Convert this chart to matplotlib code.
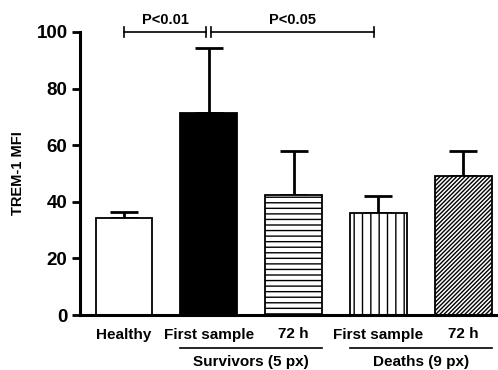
import numpy as np
import matplotlib
matplotlib.use("Agg")
import matplotlib.pyplot as plt

plt.rcParams["font.family"] = ["Liberation Sans", "DejaVu Sans"]
plt.rcParams["font.weight"] = "bold"
plt.rcParams["hatch.linewidth"] = 1.0

# TREM-1 MFI per group (mean, upper SEM)
labels = ["Healthy", "First sample", "72 h", "First sample", "72 h"]
means = [34.3, 71.5, 42.5, 36.0, 49.0]
errors = [2.2, 23.0, 15.5, 6.0, 8.8]
fills = ["white", "black", "white", "white", "white"]
hatches = [None, None, "---", "||", "////////"]
groups = ["Survivors (5 px)", "Deaths (9 px)"]
group_members = [(1, 2), (3, 4)]
yticks = [0, 20, 40, 60, 80, 100]

fig = plt.figure(figsize=(4.98, 3.70), dpi=100)
ax = fig.add_axes([80 / 498, 55 / 370, 418 / 498, 283 / 370])

x = np.arange(len(labels))
width = 0.67
ax.bar(x, means, width=width, color=fills, edgecolor="black",
       linewidth=1.3, hatch=hatches, zorder=2)
ax.errorbar(x, means, yerr=[np.zeros(len(errors)), errors], fmt="none",
            ecolor="black", elinewidth=2, capsize=10, capthick=2, zorder=1)

ax.set_xlim(-0.52, 4.41)
ax.set_ylim(0, 100)
ax.set_yticks(yticks)
ax.set_xticks(x)
ax.set_xticklabels(labels, fontsize=11, fontweight="bold")
ax.tick_params(axis="x", length=0, pad=9)
ax.tick_params(axis="y", length=6, width=2, pad=3, labelsize=13.5)
for t in ax.get_yticklabels():
    t.set_fontweight("bold")
ax.set_ylabel("TREM-1 MFI", fontsize=10.5, fontweight="bold", labelpad=8)

for side in ["top", "right"]:
    ax.spines[side].set_visible(False)
for side in ["left", "bottom"]:
    ax.spines[side].set_linewidth(2.2)

# significance brackets along the top
ytop = 100
tick = 1.8
gap = 0.03
brackets = [(0, 1 - gap, "P<0.01"), (1 + gap, 3 - 0.05, "P<0.05")]
for x0, x1, txt in brackets:
    ax.plot([x0, x1], [ytop, ytop], color="black", lw=1.2, clip_on=False)
    for xe in (x0, x1):
        ax.plot([xe, xe], [ytop - tick, ytop + tick], color="black",
                lw=1.2, clip_on=False)
    ax.text((x0 + x1) / 2, ytop + 1.8, txt, ha="center", va="bottom",
            fontsize=10.5, fontweight="bold")

# group underlines and captions
for name, (a, b) in zip(groups, group_members):
    ax.plot([a - width / 2, b + width / 2], [-11.7, -11.7], color="black",
            lw=1.2, clip_on=False)
    ax.text((a + b) / 2, -14.3, name, ha="center", va="top",
            fontsize=11, fontweight="bold")

fig.savefig("out.png", dpi=100)
